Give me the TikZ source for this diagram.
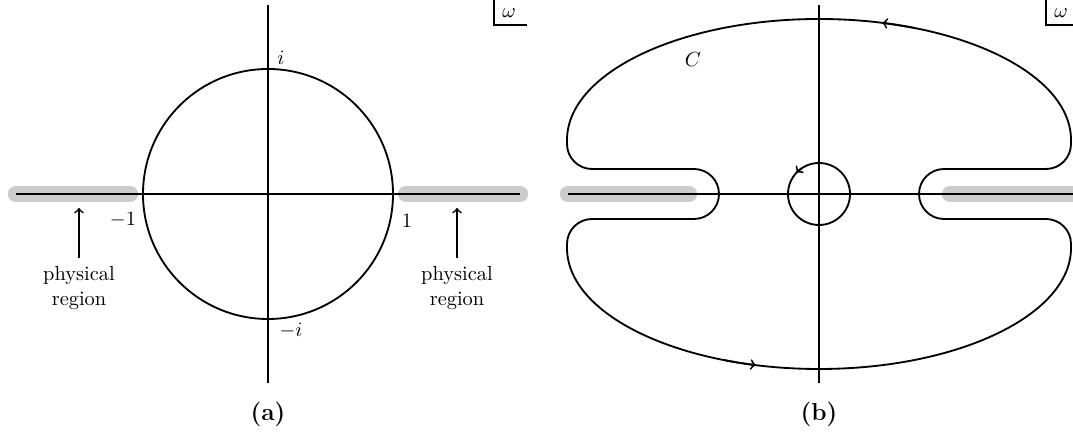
\documentclass[tikz,border=0pt]{standalone}
\usetikzlibrary{arrows}
\begin{document}
\begin{tikzpicture}[x=0.49pt,y=0.49pt,
  axisline/.style={line width=0.9pt},
  curve/.style={line width=0.9pt},
  cutbar/.style={line width=8pt,line cap=round,color=black!20},
  wbox/.style={line width=0.6pt},
  lbl/.style={inner sep=0pt},
  caption/.style={font=\large\bfseries,inner sep=0pt},
  tipmark/.style={line width=0.9pt,->},
  physarrow/.style={line width=0.8pt,->}]
\useasboundingbox (0,0) rectangle (1073,436);
\clip (0,0) rectangle (1073,436);

% ---------------- panel (a) ----------------
\coordinate (aO) at (268,242);
\coordinate (aL) at (16,242);
\coordinate (aR) at (520,242);
\coordinate (aT) at (268,431);
\coordinate (aB) at (268,53);
\draw[cutbar] (16,242) -- (130,242);
\draw[cutbar] (406,242) -- (520,242);
\draw[axisline] (aL) -- (aR);
\draw[axisline] (aT) -- (aB);
\draw[curve] (aO) circle[radius=125];
\node[lbl] (ai) at (281,378) {$i$};
\node[lbl] (ami) at (291,105) {$-i$};
\node[lbl] (am1) at (123,216) {$-1$};
\node[lbl] (ap1) at (407,215) {$1$};
\node[lbl,align=center] (aphysL) at (79,148) {physical\\region};
\node[lbl,align=center] (aphysR) at (457,148) {physical\\region};
\coordinate (atipL) at (79,228);
\coordinate (atipR) at (457,228);
\draw[physarrow] (aphysL.north |- 0,178) -- (atipL);
\draw[physarrow] (aphysR.north |- 0,178) -- (atipR);
\draw[wbox] (494,436) -- (494,411) -- (527,411);
\node[lbl] (aw) at (509,423) {$\omega$};
\node[caption] (acap) at (268,22) {(a)};

% ---------------- panel (b) ----------------
\coordinate (bO) at (819,242);
\coordinate (bL) at (568,242);
\coordinate (bR) at (1075,242);
\coordinate (bT) at (819,431);
\coordinate (bB) at (819,53);
\draw[cutbar] (568,242) -- (689,242);
\draw[cutbar] (950,242) -- (1090,242);
\draw[axisline] (bL) -- (bR);
\draw[axisline] (bT) -- (bB);
\draw[curve] (bO) circle[radius=31];
\draw[tipmark] (bO) ++(125:31) arc[start angle=125,end angle=137,radius=31];

% outer contour C
\draw[curve] (1071,296)
  arc[start angle=0,end angle=180,x radius=252,y radius=121]
  -- (567,292)
  arc[start angle=180,end angle=270,radius=25]
  -- (694,267)
  arc[start angle=90,end angle=-90,radius=25]
  -- (592,217)
  arc[start angle=90,end angle=180,radius=25]
  -- (567,188)
  arc[start angle=180,end angle=360,x radius=252,y radius=121]
  -- (1071,192)
  arc[start angle=0,end angle=90,radius=25]
  -- (944,217)
  arc[start angle=270,end angle=90,radius=25]
  -- (1046,267)
  arc[start angle=270,end angle=360,radius=25]
  -- cycle;
\draw[tipmark] (819,296) ++(68:252 and 121)
  arc[start angle=68,end angle=75.5,x radius=252,y radius=121];
\draw[tipmark] (819,188) ++(248:252 and 121)
  arc[start angle=248,end angle=255.5,x radius=252,y radius=121];
\node[lbl] (bC) at (693,376) {$C$};
\draw[wbox] (1046,436) -- (1046,411) -- (1075,411);
\node[lbl] (bw) at (1061,423) {$\omega$};
\node[caption] (bcap) at (819,22) {(b)};
\end{tikzpicture}
\end{document}
